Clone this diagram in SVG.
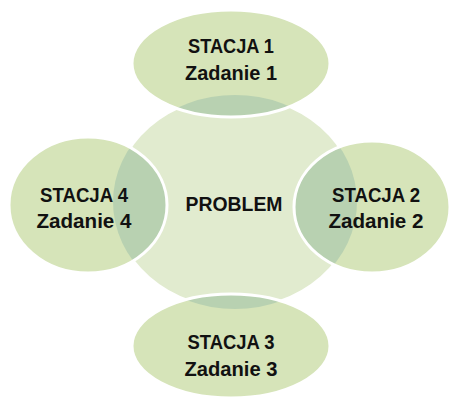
<svg xmlns="http://www.w3.org/2000/svg" width="450" height="398" viewBox="0 0 450 398">
  <style>
    .center { fill: #e1ebcf; stroke: #ffffff; stroke-width: 3; }
    .sat { fill: #d6e4b9; stroke: none; }
    .ov { fill: #b8d1b1; stroke: none; }
    .edge { fill: none; stroke: #ffffff; stroke-width: 3; }
    .t { font-family: "Liberation Sans", Arial, sans-serif; font-weight: bold; font-size: 20px; fill: #111111; text-anchor: middle; }
  </style>
  <defs>
    <clipPath id="clipCenter">
      <ellipse cx="235" cy="202" rx="122" ry="107"/>
    </clipPath>
  </defs>
  <rect width="450" height="398" fill="#ffffff"/>
  <g id="problem">
    <ellipse class="center" cx="235" cy="202" rx="122" ry="107"/>
    <text class="t" x="234" y="211" textLength="97" lengthAdjust="spacingAndGlyphs">PROBLEM</text>
  </g>
  <g id="stacja1">
    <ellipse class="sat" cx="231" cy="63.5" rx="99" ry="53.5"/>
    <ellipse class="ov" cx="231" cy="63.5" rx="99" ry="53.5" clip-path="url(#clipCenter)"/>
    <ellipse class="edge" cx="231" cy="63.5" rx="99" ry="53.5"/>
    <text class="t" x="231" y="53" textLength="86" lengthAdjust="spacingAndGlyphs">STACJA 1</text>
    <text class="t" x="231" y="80" textLength="92" lengthAdjust="spacingAndGlyphs">Zadanie 1</text>
  </g>
  <g id="stacja2">
    <ellipse class="sat" cx="372" cy="207" rx="78" ry="66"/>
    <ellipse class="ov" cx="372" cy="207" rx="78" ry="66" clip-path="url(#clipCenter)"/>
    <ellipse class="edge" cx="372" cy="207" rx="78" ry="66"/>
    <text class="t" x="376" y="202" textLength="88" lengthAdjust="spacingAndGlyphs">STACJA 2</text>
    <text class="t" x="376" y="228" textLength="95" lengthAdjust="spacingAndGlyphs">Zadanie 2</text>
  </g>
  <g id="stacja3">
    <ellipse class="sat" cx="231" cy="346" rx="99" ry="52"/>
    <ellipse class="ov" cx="231" cy="346" rx="99" ry="52" clip-path="url(#clipCenter)"/>
    <ellipse class="edge" cx="231" cy="346" rx="99" ry="52"/>
    <text class="t" x="231" y="349" textLength="87" lengthAdjust="spacingAndGlyphs">STACJA 3</text>
    <text class="t" x="231" y="376" textLength="93" lengthAdjust="spacingAndGlyphs">Zadanie 3</text>
  </g>
  <g id="stacja4">
    <ellipse class="sat" cx="88" cy="205" rx="79" ry="68"/>
    <ellipse class="ov" cx="88" cy="205" rx="79" ry="68" clip-path="url(#clipCenter)"/>
    <ellipse class="edge" cx="88" cy="205" rx="79" ry="68"/>
    <text class="t" x="84" y="202" textLength="88" lengthAdjust="spacingAndGlyphs">STACJA 4</text>
    <text class="t" x="84" y="228" textLength="95" lengthAdjust="spacingAndGlyphs">Zadanie 4</text>
  </g>
  <g id="connectors"></g>
</svg>
